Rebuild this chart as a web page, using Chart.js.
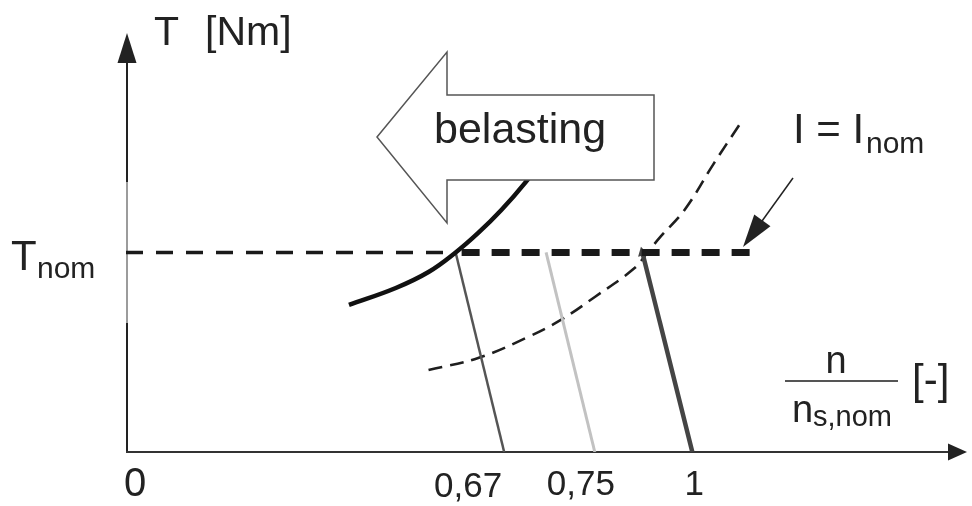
<!DOCTYPE html>
<html>
<head>
<meta charset="utf-8">
<script src="https://cdn.jsdelivr.net/npm/chart.js@4/dist/chart.umd.min.js"></script>
<style>
  html, body { margin: 0; padding: 0; background: #fff; }
  canvas { display: block; }
</style>
</head>
<body>
<canvas id="chart" width="972" height="506"></canvas>
<script>
// x: speed ratio n / n_s,nom [-], y: torque relative to T_nom
const tickValues = [0, 0.67, 0.75, 1];
const tickLabels = ['0', '0,67', '0,75', '1'];
const tNom = 1;

// synchronous speeds of the three characteristics and their speed at T_nom
const syncSpeeds  = [0.67, 0.75, 1];
const ratedSpeeds = [0.584, 0.707, 0.872];

// end of the I = I_nom limit on the T_nom line
const tNomLimitEnd = 1.158;

// load torque curve
const loadSpeed  = [0.395, 0.478, 0.536, 0.584, 0.624, 0.665, 0.689, 0.709];
const loadTorque = [0.737, 0.822, 0.902, 1.000, 1.098, 1.213, 1.353, 1.504];

// locus of operating points with I = I_nom
const currentSpeed  = [0.536, 0.624, 0.691, 0.720, 0.750, 0.852, 0.885, 0.918, 0.980, 1.056, 1.120];
const currentTorque = [0.411, 0.471, 0.576, 0.662, 0.777, 0.922, 1.000, 1.078, 1.213, 1.449, 1.639];

const toPoints = (xs, ys) => xs.map((x, i) => ({ x, y: ys[i] }));

// Schematic speed axis: each interval between the marked speeds gets its own share of the width
class SchematicScale extends Chart.LinearScale {
  static id = 'schematic';
  static defaults = Chart.LinearScale.defaults;

  _toDecimal(v) {
    const k = this.options.knots, s = this.options.shares;
    const n = k.length;
    let i = 1;
    while (i < n - 1 && v > k[i]) i++;
    return s[i - 1] + (v - k[i - 1]) * (s[i] - s[i - 1]) / (k[i] - k[i - 1]);
  }
  _fromDecimal(d) {
    const k = this.options.knots, s = this.options.shares;
    const n = k.length;
    let i = 1;
    while (i < n - 1 && d > s[i]) i++;
    return k[i - 1] + (d - s[i - 1]) * (k[i] - k[i - 1]) / (s[i] - s[i - 1]);
  }
  getPixelForValue(value) {
    if (value === null || value === undefined) return NaN;
    return this.getPixelForDecimal(this._toDecimal(value));
  }
  getValueForPixel(pixel) {
    return this._fromDecimal(this.getDecimalForPixel(pixel));
  }
}
Chart.register(SchematicScale);

const FONT = "'Liberation Sans', Arial, Helvetica, sans-serif";
const INK = '#222';

function text(ctx, str, x, y, size, align) {
  ctx.font = size + 'px ' + FONT;
  ctx.textAlign = align || 'left';
  ctx.textBaseline = 'alphabetic';
  ctx.fillStyle = INK;
  ctx.fillText(str, x, y);
}

function arrowHead(ctx, tipX, tipY, fromX, fromY, len, half) {
  const dx = tipX - fromX, dy = tipY - fromY;
  const L = Math.hypot(dx, dy);
  const ux = dx / L, uy = dy / L;
  const bx = tipX - ux * len, by = tipY - uy * len;
  ctx.beginPath();
  ctx.moveTo(tipX, tipY);
  ctx.lineTo(bx - uy * half, by + ux * half);
  ctx.lineTo(bx + uy * half, by - ux * half);
  ctx.closePath();
  ctx.fill();
}

const diagram = {
  id: 'diagram',
  beforeDatasetsDraw(chart) {
    const { ctx, chartArea: a } = chart;
    ctx.save();
    // vertical torque axis
    ctx.lineWidth = 2;
    ctx.strokeStyle = INK;
    ctx.beginPath();
    ctx.moveTo(a.left + 1, a.bottom);
    ctx.lineTo(a.left + 1, a.top + 28);
    ctx.stroke();
    ctx.strokeStyle = '#9c9c9c';
    ctx.beginPath();
    ctx.moveTo(a.left + 1, 182);
    ctx.lineTo(a.left + 1, 323);
    ctx.stroke();
    ctx.fillStyle = INK;
    arrowHead(ctx, a.left + 1, a.top, a.left + 1, a.top + 50, 30, 9.5);
    // horizontal speed axis
    ctx.strokeStyle = '#333';
    ctx.lineWidth = 1.8;
    ctx.beginPath();
    ctx.moveTo(a.left, a.bottom);
    ctx.lineTo(a.right - 10, a.bottom);
    ctx.stroke();
    ctx.fillStyle = INK;
    arrowHead(ctx, a.right + 1, a.bottom, a.right - 40, a.bottom, 19, 8.5);
    ctx.restore();
  },
  afterDatasetsDraw(chart) {
    const { ctx } = chart;
    const xs = chart.scales.x;
    ctx.save();

    // hollow arrow: increasing load
    ctx.beginPath();
    ctx.moveTo(377, 137);
    ctx.lineTo(447, 52);
    ctx.lineTo(447, 95);
    ctx.lineTo(654, 95);
    ctx.lineTo(654, 180);
    ctx.lineTo(447, 180);
    ctx.lineTo(447, 223);
    ctx.closePath();
    ctx.fillStyle = '#fff';
    ctx.fill();
    ctx.lineWidth = 1.5;
    ctx.strokeStyle = '#555';
    ctx.stroke();
    text(ctx, 'belasting', 434, 143, 43);

    // pointer to the current limit
    ctx.strokeStyle = INK;
    ctx.lineWidth = 1.5;
    ctx.beginPath();
    ctx.moveTo(793, 178);
    ctx.lineTo(757, 228);
    ctx.stroke();
    ctx.fillStyle = INK;
    arrowHead(ctx, 743, 247, 793, 178, 33, 10);
    text(ctx, 'I = I', 793, 143, 42);
    text(ctx, 'nom', 866, 153, 30);

    // axis titles
    text(ctx, 'T', 154, 45, 41);
    text(ctx, '[Nm]', 205, 45, 41);
    text(ctx, 'T', 11, 270, 42);
    text(ctx, 'nom', 37, 278, 30);

    text(ctx, 'n', 836, 373, 38, 'center');
    ctx.strokeStyle = '#555';
    ctx.lineWidth = 2;
    ctx.beginPath();
    ctx.moveTo(785, 381);
    ctx.lineTo(898, 381);
    ctx.stroke();
    text(ctx, 'n', 792, 422, 38);
    text(ctx, 's,nom', 813, 426, 29);
    text(ctx, '[-]', 912, 394, 42);

    // speed tick labels
    const shift = [9, -36, -14, 2];
    const size = [40, 35, 35, 35];
    const base = [496, 497, 495, 495];
    tickValues.forEach((v, i) => {
      text(ctx, tickLabels[i], xs.getPixelForValue(v) + shift[i], base[i], size[i], 'center');
    });
    ctx.restore();
  }
};

const line = (data, color, width, extra) => Object.assign({
  data, showLine: true, borderColor: color, backgroundColor: color,
  borderWidth: width, pointRadius: 0, fill: false, borderCapStyle: 'butt'
}, extra || {});

new Chart(document.getElementById('chart'), {
  type: 'scatter',
  data: {
    datasets: [
      // T_nom reachable at I = I_nom
      line([{ x: ratedSpeeds[0], y: tNom }, { x: tNomLimitEnd, y: tNom }], '#1a1a1a', 7,
           { borderDash: [18, 12], borderDashOffset: 24 }),
      // load torque
      line(toPoints(loadSpeed, loadTorque), '#111', 4.5, { tension: 0.4 }),
      // characteristic at n_s = 1
      line([{ x: ratedSpeeds[2], y: tNom }, { x: syncSpeeds[2], y: 0 }], '#444', 4.5,
           { pointRadius: [6, 0], pointStyle: 'triangle', rotation: -14, pointBorderWidth: 0 }),
      // characteristic at n_s = 0,67
      line([{ x: ratedSpeeds[0], y: tNom }, { x: syncSpeeds[0], y: 0 }], '#555', 2.5),
      // characteristic at n_s = 0,75
      line([{ x: ratedSpeeds[1], y: tNom }, { x: syncSpeeds[1], y: 0 }], '#c2c2c2', 3),
      // T_nom reference
      line([{ x: 0, y: tNom }, { x: ratedSpeeds[0], y: tNom }], '#1a1a1a', 3.5,
           { borderDash: [17, 13] }),
      // I = I_nom locus
      line(toPoints(currentSpeed, currentTorque), '#1e1e1e', 2.6,
           { borderDash: [14, 8], tension: 0.4 })
    ]
  },
  options: {
    responsive: false,
    animation: false,
    events: [],
    layout: { padding: { left: 126, right: 2, top: 33, bottom: 54 } },
    plugins: { legend: { display: false }, tooltip: { enabled: false } },
    scales: {
      x: {
        type: 'schematic', min: 0, max: 1.7, display: false,
        knots:  [0, 0.67, 0.75, 1, 1.7],
        shares: [0, 0.4502, 0.5581, 0.6742, 1]
      },
      y: { type: 'linear', min: 0, max: 2.1, display: false }
    }
  },
  plugins: [diagram]
});
</script>
</body>
</html>
